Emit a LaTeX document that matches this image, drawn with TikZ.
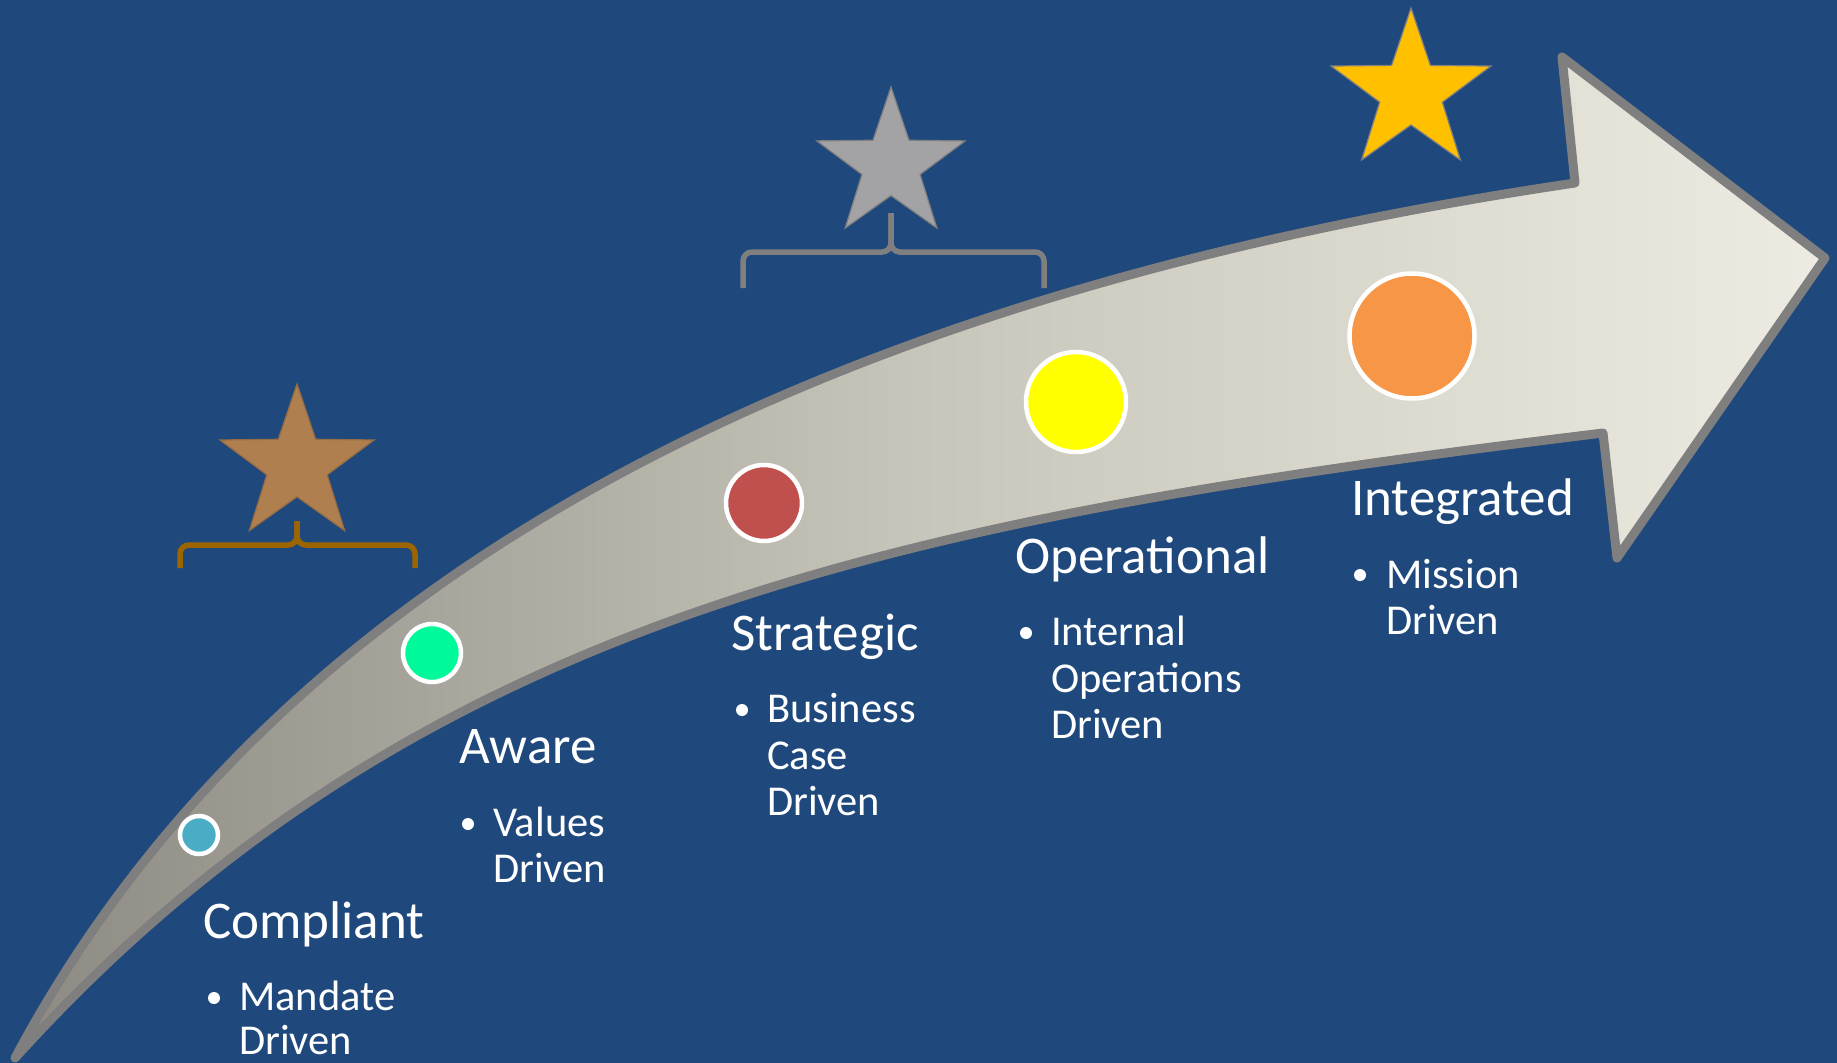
\documentclass[tikz,border=0pt]{standalone}
\usepackage{fontspec}
\setmainfont{Carlito}
\usetikzlibrary{shapes.geometric}
\definecolor{bgblue}{HTML}{1F497D}
\definecolor{rim}{HTML}{7F7F7F}
\definecolor{bandl}{RGB}{140,138,130}
\definecolor{bandm}{RGB}{200,198,186}
\definecolor{bandr}{RGB}{238,236,226}
\definecolor{cblue}{HTML}{4BACC6}
\definecolor{cgreen}{HTML}{00FA9A}
\definecolor{cred}{HTML}{C0504D}
\definecolor{cyell}{HTML}{FFFF00}
\definecolor{corange}{HTML}{F79646}
\definecolor{bronze}{RGB}{175,127,79}
\definecolor{bronzebr}{RGB}{156,101,0}
\definecolor{silver}{RGB}{163,162,164}
\definecolor{gold}{HTML}{FFC000}
\def\ttl{\fontsize{53}{62}\selectfont}
\def\itm{\fontsize{42.5}{47}\selectfont}

\begin{document}
\begin{tikzpicture}[x=1pt,y=-1pt,
    title/.style={anchor=base west,inner sep=0,text=white,font=\ttl},
    item/.style={anchor=base west,inner sep=0,text=white,font=\itm},
    bul/.style={circle,fill=white,inner sep=0,minimum size=12},
    dot/.style={circle,draw=white,line width=4.5,inner sep=0},
    award/.style={star,star points=5,star point ratio=2.55,inner sep=0,line width=1.2},
    brace/.style={line width=5.5,rounded corners=9}]
\fill[bgblue] (0,0) rectangle (1837,1063);
\useasboundingbox (0,0) rectangle (1837,1063);
%
% the rising arrow
\draw[line width=9,draw=rim,line join=round,left color=bandl,right color=bandr,middle color=bandm]
   (15,1058) .. controls (264,591) and (784,300) .. (1575,183) -- (1562,57) -- (1825,258)
   -- (1617,558) -- (1603,433) .. controls (908,518) and (417,614) .. cycle;
%
      \node [dot,fill=cblue,minimum size=38] at (199,835) (compl dot) {};
      \node [title] at (203,938) (compl) {Compliant};
      \node [bul] at (214,998) (compl bul) {};
      \node [item] at (239,1010) (compl 1) {Mandate};
      \node [item] at (239,1054) (compl 2) {Driven};
%
      \node [dot,fill=cgreen,minimum size=58] at (432,653) (aware dot) {};
      \node [title] at (459,763) (aware) {Aware};
      \node [bul] at (468,824) (aware bul) {};
      \node [item] at (493,836) (aware 1) {Values};
      \node [item] at (493,882) (aware 2) {Driven};
%
      \node [dot,fill=cred,minimum size=76] at (764,503) (strat dot) {};
      \node [title] at (731,650) (strat) {Strategic};
      \node [bul] at (742,710) (strat bul) {};
      \node [item] at (767,722) (strat 1) {Business};
      \node [item] at (767,769) (strat 2) {Case};
      \node [item] at (767,815) (strat 3) {Driven};
%
      \node [dot,fill=cyell,minimum size=100] at (1076,402) (oper dot) {};
      \node [title] at (1015,573) (oper) {Operational};
      \node [bul] at (1026,633) (oper bul) {};
      \node [item] at (1051,645) (oper 1) {Internal};
      \node [item] at (1051,692) (oper 2) {Operations};
      \node [item] at (1051,738) (oper 3) {Driven};
%
      \node [dot,fill=corange,minimum size=125] at (1412,336) (integ dot) {};
      \node [title] at (1351,515) (integ) {Integrated};
      \node [bul] at (1360,575) (integ bul) {};
      \node [item] at (1386,588) (integ 1) {Mission};
      \node [item] at (1386,634) (integ 2) {Driven};
%
% stars and their braces
      \node [award,fill=bronze,draw=bronze!85!black,minimum size=162] at (297,465) (bronze star) {};
      \node [award,fill=silver,draw=rim,minimum size=156] at (891,165) (silver star) {};
      \node [award,fill=gold,draw=gray,minimum size=168] at (1411,92) (gold star) {};
\draw[brace,bronzebr] (180,568) -- (180,545) -- (297,545) -- (297,521);
\draw[brace,bronzebr] (415,568) -- (415,545) -- (297,545) -- (297,521);
\draw[brace,rim] (743,288) -- (743,252) -- (891,252) -- (891,213);
\draw[brace,rim] (1044,288) -- (1044,252) -- (891,252) -- (891,213);
\end{tikzpicture}
\end{document}
